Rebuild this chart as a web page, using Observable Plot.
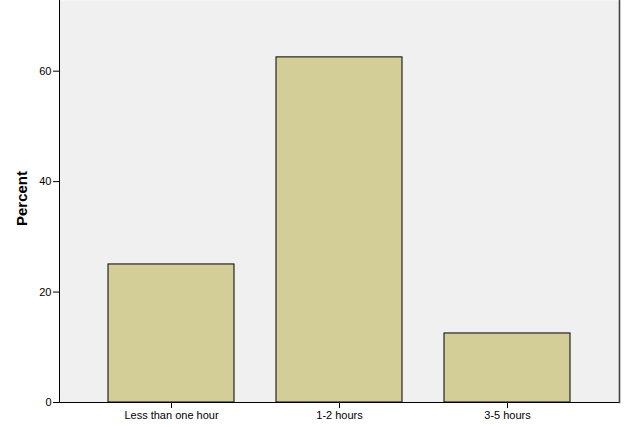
<!DOCTYPE html>
<html>
<head>
<meta charset="utf-8">
<script src="https://cdn.jsdelivr.net/npm/d3@7"></script>
<script src="https://cdn.jsdelivr.net/npm/@observablehq/plot@0.6"></script>
<style>
  html, body { margin: 0; padding: 0; background: #ffffff; }
  #chart svg { display: block; }
</style>
</head>
<body>
<div id="chart"></div>
<script>
// Time spent per session, share of respondents (%)
const categories = ["Less than one hour", "1-2 hours", "3-5 hours"];
const percents = [25, 62.5, 12.5];
const yTicks = [0, 20, 40, 60];

const rows = categories.map((c, i) => ({category: c, percent: percents[i]}));

const font = "Liberation Sans, Arial, sans-serif";

const chart = Plot.plot({
  width: 625,
  height: 427,
  marginLeft: 59,
  marginRight: 6,
  marginTop: 0,
  marginBottom: 25,
  style: {fontFamily: font, fontSize: "11px", color: "#000", background: "#ffffff"},
  x: {domain: categories, paddingInner: 0.25, paddingOuter: 0.285, label: null},
  y: {domain: [0, 72.8], label: null},
  marks: [
    Plot.frame({fill: "#f0f0f0", stroke: null}),
    Plot.barY(rows, {x: "category", y: "percent", fill: "#d3ce97", stroke: "#000", strokeWidth: 1}),
    Plot.axisY({ticks: yTicks, tickSize: 6, tickPadding: 2, label: null, fontSize: 11}),
    Plot.axisX({tickSize: 6, tickPadding: 3, label: null, fontSize: 11}),
    Plot.ruleY([0], {stroke: "#000", strokeWidth: 1}),
    Plot.frame({anchor: "left", stroke: "#000", strokeWidth: 1}),
    Plot.frame({anchor: "right", stroke: "#444", strokeWidth: 1.6}),
    Plot.text(["Percent"], {
      frameAnchor: "left",
      text: d => d,
      rotate: -90,
      textAnchor: "middle",
      dx: -37,
      dy: -3,
      fontSize: 15,
      fontWeight: "bold",
      fill: "#000"
    })
  ]
});

document.getElementById("chart").appendChild(chart);
</script>
</body>
</html>
